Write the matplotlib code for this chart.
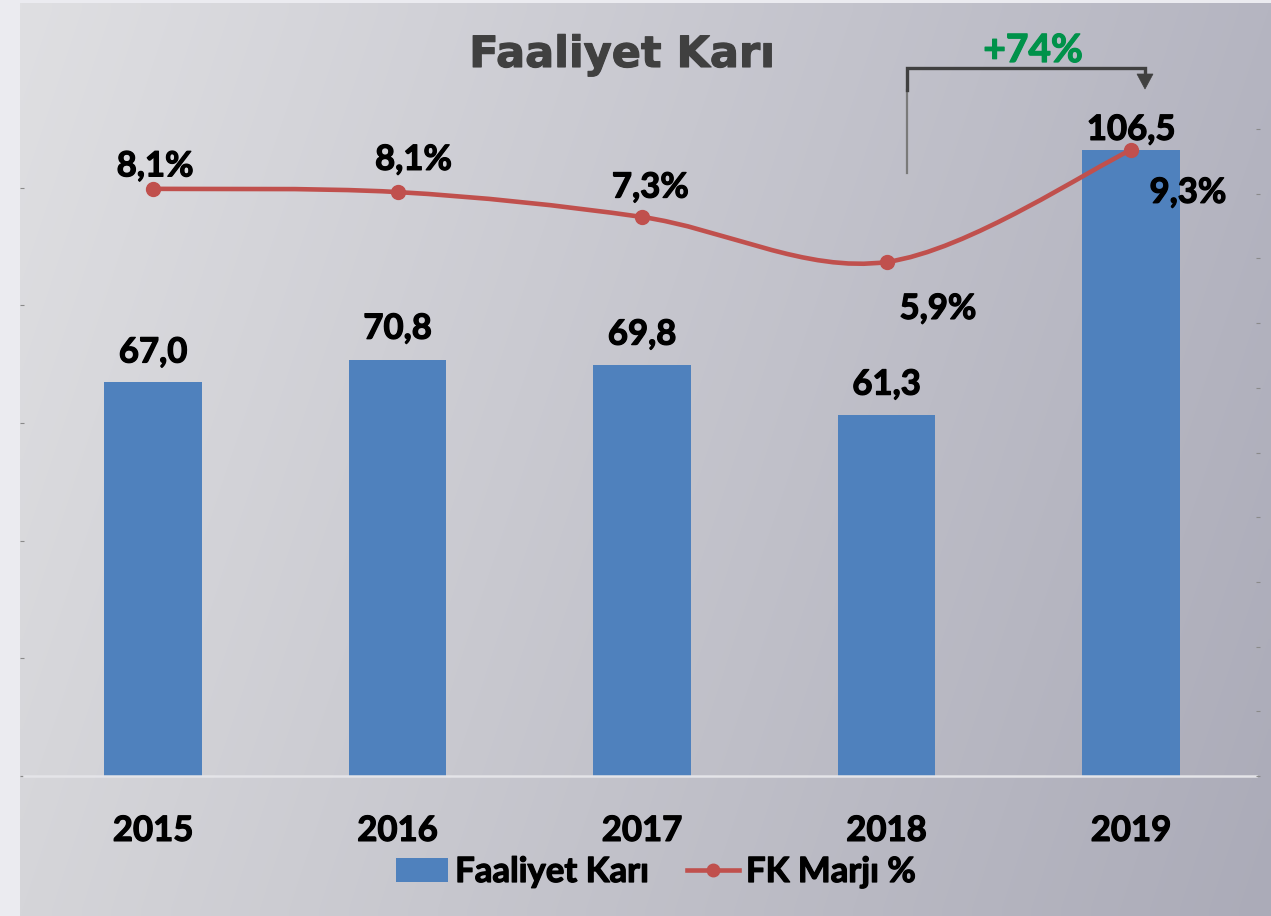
import numpy as np
import matplotlib
matplotlib.use('Agg')
import matplotlib.pyplot as plt
import matplotlib.patheffects as pe
from matplotlib.path import Path
from matplotlib.patches import PathPatch, Polygon, Patch
from matplotlib.lines import Line2D

# ---------------- data ----------------
years = ['2015', '2016', '2017', '2018', '2019']
faaliyet_kari = [67.0, 70.8, 69.8, 61.3, 106.5]
fk_marji = [8.15, 8.05, 7.28, 5.89, 9.35]
fk_marji_labels = ['8,1%', '8,1%', '7,3%', '5,9%', '9,3%']
growth_label = '+74%'
title_text = 'Faaliyet Karı'
legend_labels = ['Faaliyet Karı', 'FK Marjı %']

# ---------------- style ----------------
BLUE = '#4F81BD'
RED = '#C0504D'
GREEN = '#00924A'
DARK = '#404040'
FONT = ['Lato', 'DejaVu Sans']
WEIGHT = 'bold'
THICK = [pe.withStroke(linewidth=0.9, foreground='black')]

W, H = 1271, 916
fig = plt.figure(figsize=(W / 100, H / 100), dpi=100)
fig.patch.set_facecolor('#ebebf0')


def fx(px):
    return px / W


def fy(py):
    return 1 - py / H


# background gradient panel
bg = fig.add_axes([fx(20), 0, 1 - fx(20), fy(3)])
tl = np.array([223, 223, 226])
tr = np.array([181, 181, 193])
bl = np.array([213, 213, 217])
br = np.array([171, 171, 184])
nx, ny = 256, 64
u = np.linspace(0, 1, nx)[None, :, None]
v = np.linspace(0, 1, ny)[:, None, None]
img = (tl * (1 - u) * (1 - v) + tr * u * (1 - v) + bl * (1 - u) * v + br * u * v) / 255
bg.imshow(img, aspect='auto', interpolation='bilinear', extent=[0, 1, 0, 1])
bg.axis('off')

# main axes
ax = fig.add_axes([fx(24), fy(776), fx(1256) - fx(24), fy(129) - fy(776)])
ax.patch.set_alpha(0)
x = np.arange(len(years))
ax.bar(x, faaliyet_kari, width=0.4, color=BLUE, zorder=2)
ax.set_xlim(-0.528, 4.511)
ax.set_ylim(0, 110)
ax.set_yticks(range(0, 101, 20))
ax.set_yticklabels([])
ax.tick_params(axis='y', length=3, width=0.8, color='#8a8a8a')
ax.set_xticks(x)
ax.set_xticklabels(years, fontsize=25, fontweight=WEIGHT, family=FONT)
for t in ax.get_xticklabels():
    t.set_path_effects(THICK)
ax.tick_params(axis='x', length=0, pad=28)
for s in ['top', 'right', 'left']:
    ax.spines[s].set_visible(False)
ax.spines['bottom'].set_color('#e4e4e8')
ax.spines['bottom'].set_linewidth(1.8)

bar_offsets = [14, 15, 15, 15, 7]  # points, baseline above bar top
for xi, val, off in zip(x, faaliyet_kari, bar_offsets):
    ax.annotate(f'{val:.1f}'.replace('.', ','), (xi, val), xytext=(0, off),
                textcoords='offset points', ha='center', va='baseline',
                fontsize=25, fontweight=WEIGHT, family=FONT, color='black', zorder=5,
                path_effects=THICK)

# secondary axis: margin line
ax2 = ax.twinx()
ax2.set_ylim(-10, 10)
ax2.set_yticks(range(-10, 11, 2))
ax2.set_yticklabels([])
ax2.tick_params(axis='y', length=3, width=0.8, color='#8a8a8a')
for s in ['top', 'right', 'left', 'bottom']:
    ax2.spines[s].set_visible(False)

pts = np.column_stack([x.astype(float), np.array(fk_marji)])
n = len(pts)
verts = [tuple(pts[0])]
codes = [Path.MOVETO]
for i in range(n - 1):
    p0 = pts[max(i - 1, 0)]
    p1 = pts[i]
    p2 = pts[i + 1]
    p3 = pts[min(i + 2, n - 1)]
    c1 = p1 + (p2 - p0) / 6.0
    c2 = p2 - (p3 - p1) / 6.0
    verts += [tuple(c1), tuple(c2), tuple(p2)]
    codes += [Path.CURVE4] * 3
ax2.add_patch(PathPatch(Path(verts, codes), facecolor='none', edgecolor=RED,
                        lw=3.3, capstyle='round', zorder=3))
ax2.plot(x, fk_marji, 'o', color=RED, ms=10, zorder=4)

line_offsets = [(1.5, 9), (11.5, 16), (6, 14), (37, -41), (41, -38)]  # points
for xi, val, lab, (dx, dy) in zip(x, fk_marji, fk_marji_labels, line_offsets):
    ax2.annotate(lab, (xi, val), xytext=(dx, dy), textcoords='offset points',
                 ha='center', va='baseline', fontsize=25, fontweight=WEIGHT,
                 family=FONT, color='black', zorder=5, path_effects=THICK)

# title
fig.text(fx(622), fy(67), title_text, ha='center', va='baseline', fontsize=31,
         fontweight='bold', family='DejaVu Sans', color=DARK,
         path_effects=[pe.withStroke(linewidth=0.8, foreground=DARK)])

# growth bracket annotation
fig.add_artist(Line2D([fx(907), fx(907)], [fy(90), fy(173)], color='#7a7a7a', lw=1.6))
fig.add_artist(Line2D([fx(907), fx(907), fx(1145), fx(1145)],
                      [fy(90), fy(67.5), fy(67.5), fy(75)], color=DARK, lw=2.4,
                      solid_joinstyle='miter'))
fig.add_artist(Polygon([[fx(1137), fy(74)], [fx(1153), fy(74)], [fx(1145), fy(89)]],
                       closed=True, facecolor=DARK, edgecolor=DARK, lw=0.5))
fig.text(fx(1033), fy(62), growth_label, ha='center', va='baseline', fontsize=28,
         fontweight=WEIGHT, family=FONT, color=GREEN,
         path_effects=[pe.withStroke(linewidth=0.9, foreground=GREEN)])

# legend
handles = [Patch(facecolor=BLUE, edgecolor='none'),
           Line2D([0], [0], color=RED, lw=3.3, marker='o', ms=9)]
leg = fig.legend(handles, legend_labels, loc='center', bbox_to_anchor=(fx(656), fy(872)),
                 ncol=2, frameon=False, prop={'family': FONT, 'weight': WEIGHT, 'size': 25},
                 handlelength=1.5, handleheight=0.7, handletextpad=0.2, columnspacing=1.1)
for t in leg.get_texts():
    t.set_path_effects(THICK)

fig.savefig('out.png', dpi=100, facecolor=fig.get_facecolor())
